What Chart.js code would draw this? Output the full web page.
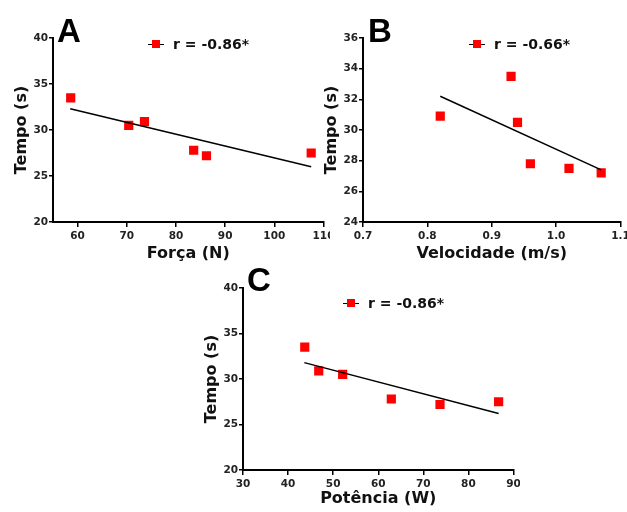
<!DOCTYPE html>
<html lang="pt">
<head>
  <meta charset="UTF-8" />
  <title>Tempo x Força, Velocidade, Potência</title>
  <script src="https://cdn.jsdelivr.net/npm/chart.js"></script>
  <style>
    body { margin: 0; background: #fff; width: 627px; height: 512px; position: relative; overflow: hidden; }
    .box { position: absolute; }
    .letter { position: absolute; font: bold 33px "Liberation Sans", Arial, sans-serif; line-height: 1; color: #000; }
    .leg { position: absolute; display: flex; align-items: center; transform: translateY(-50%);
           font: bold 14px "DejaVu Sans", sans-serif; color: #111; white-space: nowrap; }
    .mk { position: relative; width: 16px; height: 9px; margin-right: 9px; }
    .mk::before { content: ""; position: absolute; left: 0; right: 0; top: 4px; height: 1.5px; background: #000; }
    .mk::after { content: ""; position: absolute; left: 4px; top: 0.5px; width: 8px; height: 8px; background: #ff0000; }
  </style>
</head>
<body>
  <div class="box" style="left:0;top:0;width:330px;height:270px"><canvas id="chartA"></canvas></div>
  <div class="box" style="left:310px;top:0;width:317px;height:270px"><canvas id="chartB"></canvas></div>
  <div class="box" style="left:190px;top:250px;width:330px;height:262px"><canvas id="chartC"></canvas></div>

  <div class="letter" style="left:57px;top:14px">A</div>
  <div class="letter" style="left:368px;top:14px">B</div>
  <div class="letter" style="left:247px;top:263px">C</div>

  <div class="leg" style="left:148px;top:44px"><span class="mk"></span><span id="legA"></span></div>
  <div class="leg" style="left:469px;top:44px"><span class="mk"></span><span id="legB"></span></div>
  <div class="leg" style="left:343px;top:303px"><span class="mk"></span><span id="legC"></span></div>

  <script>
    // painel A: força
    const forca = [58.6, 70.4, 73.6, 83.6, 86.2, 107.5];
    const tempoA = [33.5, 30.5, 30.9, 27.8, 27.2, 27.5];
    const retaAx = [58.5, 107.5];
    const retaAy = [32.3, 26.0];
    const xTicksA = [60, 70, 80, 90, 100, 110];
    const yTicksA = [20, 25, 30, 35, 40];

    // painel B: velocidade
    const velocidade = [0.82, 0.93, 0.94, 0.96, 1.02, 1.07];
    const tempoB = [30.9, 33.5, 30.5, 27.8, 27.5, 27.2];
    const retaBx = [0.82, 1.07];
    const retaBy = [32.2, 27.4];
    const xTicksB = [0.7, 0.8, 0.9, 1.0, 1.1];
    const yTicksB = [24, 26, 28, 30, 32, 34, 36];

    // painel C: potência
    const potencia = [43.7, 46.8, 52.1, 62.9, 73.7, 86.7];
    const tempoC = [33.5, 30.9, 30.5, 27.8, 27.2, 27.5];
    const retaCx = [43.6, 86.7];
    const retaCy = [31.8, 26.2];
    const xTicksC = [30, 40, 50, 60, 70, 80, 90];
    const yTicksC = [20, 25, 30, 35, 40];

    const legendas = ["r = -0.86*", "r = -0.66*", "r = -0.86*"];

    document.getElementById("legA").textContent = legendas[0];
    document.getElementById("legB").textContent = legendas[1];
    document.getElementById("legC").textContent = legendas[2];

    const tickFont = { family: "DejaVu Sans", weight: "bold", size: 10.5 };
    const titleFont = { family: "DejaVu Sans", weight: "bold", size: 16 };

    function panel(id, o) {
      const pts = (xs, ys) => xs.map((x, i) => ({ x, y: ys[i] }));
      new Chart(document.getElementById(id), {
        type: "scatter",
        data: {
          datasets: [
            {
              data: pts(o.fitX, o.fitY),
              showLine: true,
              borderColor: "#000",
              borderWidth: 1.5,
              pointRadius: 0
            },
            {
              data: pts(o.x, o.y),
              pointStyle: "rect",
              pointRadius: 6.5,
              backgroundColor: "#ff0000",
              borderWidth: 0
            }
          ]
        },
        options: {
          responsive: true,
          maintainAspectRatio: false,
          animation: false,
          layout: { padding: { left: 0, top: 38, right: o.padRight, bottom: 0 } },
          plugins: { legend: { display: false }, tooltip: { enabled: false } },
          scales: {
            x: {
              type: "linear",
              min: o.xMin,
              max: o.xMax,
              afterBuildTicks: s => { s.ticks = o.xTicks.map(v => ({ value: v })); },
              afterFit: s => { s.height = o.xH; s.paddingLeft = 0; s.paddingRight = 0; },
              ticks: { callback: v => v.toFixed(o.xDec), font: tickFont, color: "#222", padding: 3, maxRotation: 0, autoSkip: false },
              grid: { drawOnChartArea: false, tickLength: 5, color: "#000", lineWidth: 1.5 },
              border: { color: "#000", width: 2 },
              title: { display: true, text: o.xTitle, font: titleFont, color: "#111", padding: { top: 0, bottom: o.xTitlePad } }
            },
            y: {
              min: o.yMin,
              max: o.yMax,
              afterBuildTicks: s => { s.ticks = o.yTicks.map(v => ({ value: v })); },
              afterFit: s => { s.width = 53; s.paddingTop = 0; s.paddingBottom = 0; },
              ticks: { font: tickFont, color: "#222", padding: 1, autoSkip: false },
              grid: { drawOnChartArea: false, tickLength: 4, color: "#000", lineWidth: 1.5 },
              border: { color: "#000", width: 2 },
              title: { display: true, text: "Tempo (s)", font: titleFont, color: "#111", padding: { top: 12, bottom: 0 } }
            }
          }
        }
      });
    }

    panel("chartA", {
      x: forca, y: tempoA, fitX: retaAx, fitY: retaAy,
      xMin: 55, xMax: 110, xTicks: xTicksA, xDec: 0,
      yMin: 20, yMax: 40, yTicks: yTicksA,
      xTitle: "Força (N)", xH: 48, xTitlePad: 7, padRight: 3
    });

    panel("chartB", {
      x: velocidade, y: tempoB, fitX: retaBx, fitY: retaBy,
      xMin: 0.7, xMax: 1.1, xTicks: xTicksB, xDec: 1,
      yMin: 24, yMax: 36, yTicks: yTicksB,
      xTitle: "Velocidade (m/s)", xH: 48, xTitlePad: 7, padRight: 4
    });

    panel("chartC", {
      x: potencia, y: tempoC, fitX: retaCx, fitY: retaCy,
      xMin: 30, xMax: 90, xTicks: xTicksC, xDec: 0,
      yMin: 20, yMax: 40, yTicks: yTicksC,
      xTitle: "Potência (W)", xH: 42, xTitlePad: 4, padRight: 5
    });
  </script>
</body>
</html>
